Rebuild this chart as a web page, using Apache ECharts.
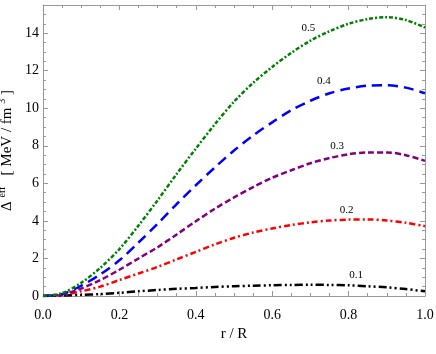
<!DOCTYPE html>
<html>
<head>
<meta charset="utf-8">
<script src="https://cdn.jsdelivr.net/npm/echarts@6/dist/echarts.min.js"></script>
<style>
  html, body { margin: 0; padding: 0; background: #fff; }
  #chart { width: 436px; height: 354px; }
</style>
</head>
<body>
<div id="chart"></div>
<script>
// r / R sample points
const radius = [0, 0.05, 0.1, 0.15, 0.2, 0.25, 0.3, 0.35, 0.4, 0.45, 0.5,
  0.55, 0.6, 0.65, 0.7, 0.75, 0.8, 0.85, 0.9, 0.95, 1.0];

// Δ eff values, one array per curve
const delta05 = [0, 0.15, 0.7, 1.5, 2.5, 3.75, 5.1, 6.5, 7.85, 9.15, 10.35,
  11.35, 12.2, 12.95, 13.6, 14.1, 14.5, 14.75, 14.85, 14.7, 14.3];
const delta04 = [0, 0.1, 0.55, 1.15, 1.9, 2.85, 3.85, 4.9, 5.9, 6.85, 7.75,
  8.55, 9.25, 9.9, 10.4, 10.8, 11.05, 11.2, 11.22, 11.1, 10.8];
const delta03 = [0, 0.08, 0.4, 0.85, 1.4, 2.0, 2.6, 3.28, 3.98, 4.65, 5.25,
  5.8, 6.3, 6.7, 7.07, 7.35, 7.55, 7.65, 7.65, 7.5, 7.2];
const delta02 = [0, 0.05, 0.25, 0.5, 0.85, 1.2, 1.55, 1.95, 2.35, 2.75, 3.1,
  3.38, 3.6, 3.78, 3.92, 4.02, 4.07, 4.08, 4.02, 3.9, 3.72];
const delta01 = [0, 0.02, 0.06, 0.1, 0.17, 0.25, 0.32, 0.38, 0.43, 0.48, 0.52,
  0.55, 0.57, 0.59, 0.6, 0.59, 0.57, 0.52, 0.46, 0.37, 0.25];

const curveNames = ['0.5', '0.4', '0.3', '0.2', '0.1'];
// where each curve's label sits, in data units [r/R, Δ]
const labelAt = [[0.695, 14.25], [0.735, 11.45], [0.77, 8.0], [0.795, 4.6], [0.82, 1.1]];

const xTicks = [0, 0.2, 0.4, 0.6, 0.8, 1.0];
const yTicks = [0, 2, 4, 6, 8, 10, 12, 14];

const curves = [delta05, delta04, delta03, delta02, delta01];
const colors = ['#008000', '#0000ff', '#800080', '#ff0000', '#000000'];
const dashes = [[4, 2, 2, 2], [10, 6], [6, 3], [6, 3, 2, 3], [8, 3, 2, 3, 2, 3]];

const font = 'Liberation Serif';
const frameColor = '#999';

const chart = echarts.init(document.getElementById('chart'));

const baseX = {
  type: 'value', min: 0, max: 1, interval: 0.2,
  axisLine: { show: true, onZero: false, lineStyle: { color: frameColor, width: 1 } },
  axisTick: { show: true, inside: true, length: 5, lineStyle: { color: frameColor } },
  minorTick: { show: true, splitNumber: 4, length: 3, lineStyle: { color: frameColor } },
  splitLine: { show: false }
};
const baseY = {
  type: 'value', min: 0, max: 15.5, interval: 2,
  axisLine: { show: true, onZero: false, lineStyle: { color: frameColor, width: 1 } },
  axisTick: { show: true, inside: true, length: 5, lineStyle: { color: frameColor } },
  minorTick: { show: true, splitNumber: 4, length: 3, lineStyle: { color: frameColor } },
  splitLine: { show: false }
};

chart.setOption({
  animation: false,
  grid: { left: 43, right: 11, top: 5, bottom: 58, outerBoundsMode: 'none', containLabel: false },
  xAxis: [
    Object.assign({}, baseX, {
      position: 'bottom',
      name: 'r / R', nameLocation: 'middle', nameGap: 30,
      nameTextStyle: { fontFamily: font, fontSize: 15, color: '#000' },
      axisLabel: {
        fontFamily: font, fontSize: 14, color: '#000', margin: 12,
        formatter: v => xTicks.some(t => Math.abs(t - v) < 1e-6) ? v.toFixed(1) : ''
      }
    }),
    Object.assign({}, baseX, { position: 'top', axisLabel: { show: false } })
  ],
  yAxis: [
    Object.assign({}, baseY, {
      position: 'left',
      name: 'Δ {sup|eff}   [ MeV / fm {sup|3} ]', nameLocation: 'middle', nameGap: 17,
      nameRotate: 90,
      nameTextStyle: {
        fontFamily: font, fontSize: 15, color: '#000',
        rich: { sup: { fontFamily: font, fontSize: 10, color: '#000', verticalAlign: 'bottom', padding: [0, 0, 9, 0] } }
      },
      axisLabel: {
        fontFamily: font, fontSize: 14, color: '#000', margin: 4,
        showMaxLabel: false,
        formatter: v => yTicks.indexOf(v) >= 0 ? String(v) : ''
      }
    }),
    Object.assign({}, baseY, { position: 'right', axisLabel: { show: false } })
  ],
  series: curves.map((vals, i) => ({
    type: 'line',
    name: curveNames[i],
    xAxisIndex: 0, yAxisIndex: 0,
    data: radius.map((r, k) => [r, vals[k]]),
    smooth: 0.3,
    symbol: 'none',
    lineStyle: { color: colors[i], width: 2.5, type: dashes[i] },
    markPoint: {
      symbol: 'circle', symbolSize: 0,
      label: { show: true, formatter: curveNames[i], fontFamily: font, fontSize: 11, color: '#000', position: 'inside' },
      data: [{ coord: labelAt[i] }]
    },
    z: 5 - i
  }))
});
</script>
</body>
</html>
